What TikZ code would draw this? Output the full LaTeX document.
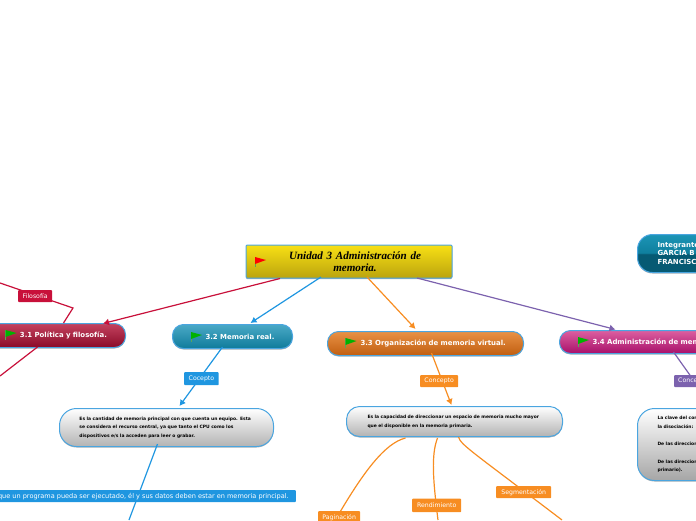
\documentclass[tikz,border=0pt]{standalone}
\usepackage{fontspec}
\setmainfont{DejaVu Sans}
\newfontfamily\rootfont{Liberation Serif}
\usetikzlibrary{arrows.meta,shadows}
\definecolor{edgeblue}{HTML}{4AA5E0}
\definecolor{linkred}{HTML}{C8103A}
\definecolor{linkblue}{HTML}{1F96E0}
\definecolor{linkorange}{HTML}{F78D22}
\definecolor{linkpurple}{HTML}{7C62AE}
\definecolor{rootT}{HTML}{F8E014}
\definecolor{rootB}{HTML}{BBA40E}
\definecolor{redT}{HTML}{C4425F}
\definecolor{redB}{HTML}{8A0A28}
\definecolor{tealT}{HTML}{4AA9C6}
\definecolor{tealB}{HTML}{0F7B9B}
\definecolor{orangeT}{HTML}{E99145}
\definecolor{orangeB}{HTML}{C05E10}
\definecolor{pinkT}{HTML}{DC5FA0}
\definecolor{pinkB}{HTML}{A8106A}
\definecolor{teamT}{HTML}{1C95B6}
\definecolor{teamM}{HTML}{0F7F9E}
\definecolor{teamB}{HTML}{065A73}
\pgfdeclareverticalshading{teamsplit}{100bp}{color(0bp)=(teamB); color(25bp)=(teamB); color(49bp)=(teamB); color(51bp)=(teamM); color(75bp)=(teamT); color(100bp)=(teamT)}
\tikzset{
  softshadow/.style={drop shadow={shadow xshift=0pt,shadow yshift=-1pt,opacity=.3,fill=black}},
  base/.style={draw=edgeblue,line width=1pt,softshadow,inner ysep=0pt,align=left,anchor=north west},
  pill/.style={base,rounded corners=11pt,text=white,font=\fontsize{6.95}{8.7}\selectfont\bfseries,inner xsep=0pt},
  notebox/.style={base,text=black,font=\fontsize{4.47}{8.7}\selectfont\bfseries,inner xsep=0pt},
  tag/.style={anchor=north west,text=white,font=\fontsize{6.2}{7}\selectfont,inner sep=0pt,align=center,rounded corners=.8pt},
  conn/.style={line width=1.2pt},
  tip/.style={-{Latex[length=6pt,width=7pt]}},
  pics/flagmark/.style={code={
    \draw[gray!70!green,line width=.8pt] (0,0) -- (0,10);
    \fill[#1] (0,0) -- (11,3) -- (0,7) -- cycle;
  }}
}
\begin{document}
\begin{tikzpicture}[x=1pt,y=-1pt]
\useasboundingbox (0,0) rectangle (696,520);
\clip (0,0) rectangle (696,520);

% nodes
\node[base,anchor=center,minimum width=206pt,minimum height=33pt,rounded corners=1pt,
  top color=rootT,bottom color=rootB,text=black,align=center,
  font=\rootfont\fontsize{11.1}{12.5}\selectfont\bfseries\itshape,text width=170pt] (root) at (349,261.5)
  {\hspace*{12pt}Unidad 3 Administración de\\\hspace*{12pt}memoria.};

\node[pill,minimum width=165pt,text width=165pt,minimum height=24pt,top color=redT,bottom color=redB] (n31) at (-40,323)
  {\hspace*{59.5pt}3.1 Política y filosofía.};
\node[pill,minimum width=120pt,text width=120pt,minimum height=24pt,top color=tealT,bottom color=tealB] (n32) at (172,324)
  {\hspace*{33pt}3.2 Memoria real.};
\node[pill,minimum width=196pt,text width=196pt,minimum height=24pt,top color=orangeT,bottom color=orangeB] (n33) at (327,331)
  {\hspace*{33pt}3.3 Organización de memoria virtual.};
\node[pill,minimum width=200pt,text width=200pt,minimum height=23pt,top color=pinkT,bottom color=pinkB] (n34) at (559,330)
  {\hspace*{33pt}3.4 Administración de memoria};
\node[pill,rounded corners=15pt,minimum width=120pt,text width=120pt,minimum height=38pt,
  shade,shading=teamsplit] (team) at (637,234)
  {\hspace*{20pt}Integrantes\\\hspace*{20pt}GARCIA B\\\hspace*{20pt}FRANCISCO};

\node[notebox,rounded corners=17pt,minimum width=214pt,text width=214pt,minimum height=38pt,top color=white,bottom color=black!30] (box32) at (59,408)
  {\hspace*{20pt}Es la cantidad de memoria principal con que cuenta un equipo. Esta\\
   \hspace*{20pt}se considera el recurso central, ya que tanto el CPU como los\\
   \hspace*{20pt}dispositivos e/s la acceden para leer o grabar.};
\node[notebox,rounded corners=13pt,minimum width=216pt,text width=216pt,minimum height=30pt,top color=white,bottom color=black!30] (box33) at (346,406)
  {\hspace*{21pt}Es la capacidad de direccionar un espacio de memoria mucho mayor\\
   \hspace*{21pt}que el disponible en la memoria primaria.};
\node[notebox,rounded corners=17pt,minimum width=120pt,text width=120pt,minimum height=72pt,top color=white,bottom color=black!35] (box34) at (637,408)
  {\hspace*{20pt}La clave del concepto\\
   \hspace*{20pt}la disociación:\\[8.6pt]
   \hspace*{20pt}De las direcciones\\[8.6pt]
   \hspace*{20pt}De las direcciones\\
   \hspace*{20pt}primario).};

% far ends beyond the picture edge
\coordinate (redtop) at (0,283);
\coordinate (redbend) at (73,308);
\coordinate (redlow) at (0,376);
\coordinate (blueend) at (129,520);
\coordinate (pagend) at (340,512);
\coordinate (rendend) at (438,520);
\coordinate (segend) at (562,520);
\coordinate (purpleend) at (692,378);

% connectors
\draw[conn,tip,linkred] ([xshift=-69pt]root.south) -- ([xshift=60pt,yshift=-.5pt]n31.north);
\draw[conn,tip,linkblue] ([xshift=-28pt,yshift=1.5pt]root.south) -- ([xshift=18pt,yshift=1pt]n32.north);
\draw[conn,tip,linkorange] ([xshift=18pt,yshift=1.5pt]root.south) -- ([xshift=-10pt,yshift=2pt]n33.north);
\draw[conn,tip,linkpurple] ([xshift=68pt,yshift=.5pt]root.south) -- ([xshift=-44pt,yshift=.5pt]n34.north);

\draw[conn,linkred] (redtop) -- (redbend) -- ([xshift=20.5pt]n31.north);
\draw[conn,linkred] ([xshift=-5.5pt,yshift=1pt]n31.south) -- (redlow);
\draw[conn,tip,linkblue] ([xshift=-10pt,yshift=2pt]n32.south) -- ([xshift=13pt,yshift=2pt]box32.north);
\draw[conn,linkblue] ([xshift=-9pt,yshift=3pt]box32.south) -- (blueend);
\draw[conn,tip,linkorange] ([xshift=6pt,yshift=3pt]n33.south) -- ([xshift=-3pt,yshift=1pt]box33.north);
\draw[conn,linkorange] ([xshift=-49pt,yshift=-1pt]box33.south) .. controls +(-20,5) and (365,470) .. (pagend);
\draw[conn,linkorange] ([xshift=-17pt,yshift=-1pt]box33.south) .. controls (431,455) and (433,480) .. (rendend);
\draw[conn,linkorange] ([xshift=4pt]box33.south) .. controls (461,445) and (470,450) .. (segend);
\draw[conn,linkpurple] ([xshift=14pt,yshift=2pt]n34.south) -- (purpleend);

% labels on the connectors
\node[tag,fill=linkred,minimum width=34pt,minimum height=12pt] (lfil) at (18,290) {Filosofía};
\node[tag,fill=linkblue,minimum width=34.5pt,minimum height=13pt] (lcoc) at (184,372) {Cocepto};
\node[tag,fill=linkorange,minimum width=38pt,minimum height=12pt] (lcon) at (420,375) {Concepto};
\node[tag,fill=linkorange,minimum width=42pt,minimum height=13pt] (lpag) at (318,511) {Paginación};
\node[tag,fill=linkorange,minimum width=49pt,minimum height=13.5pt] (lren) at (412,498.5) {Rendimiento};
\node[tag,fill=linkorange,minimum width=55pt,minimum height=12pt] (lseg) at (496,486) {Segmentación};
\node[tag,fill=linkpurple,minimum width=40pt,minimum height=12pt,align=left,text width=36pt,inner xsep=4pt] (lcpt) at (674,375) {Concepto};
\node[tag,fill=linkblue,anchor=north east,minimum height=12pt,inner xsep=7pt,font=\fontsize{6.55}{7}\selectfont] (llong) at (296,490)
  {que un programa pueda ser ejecutado, él y sus datos deben estar en memoria principal.};

% flags
\pic at (255,257) {flagmark={red}};
\pic at (5.5,330) {flagmark={green!70!black}};
\pic at (191,332) {flagmark={green!70!black}};
\pic at (345.5,338) {flagmark={green!70!black}};
\pic at (578,337) {flagmark={green!70!black}};
\end{tikzpicture}
\end{document}
